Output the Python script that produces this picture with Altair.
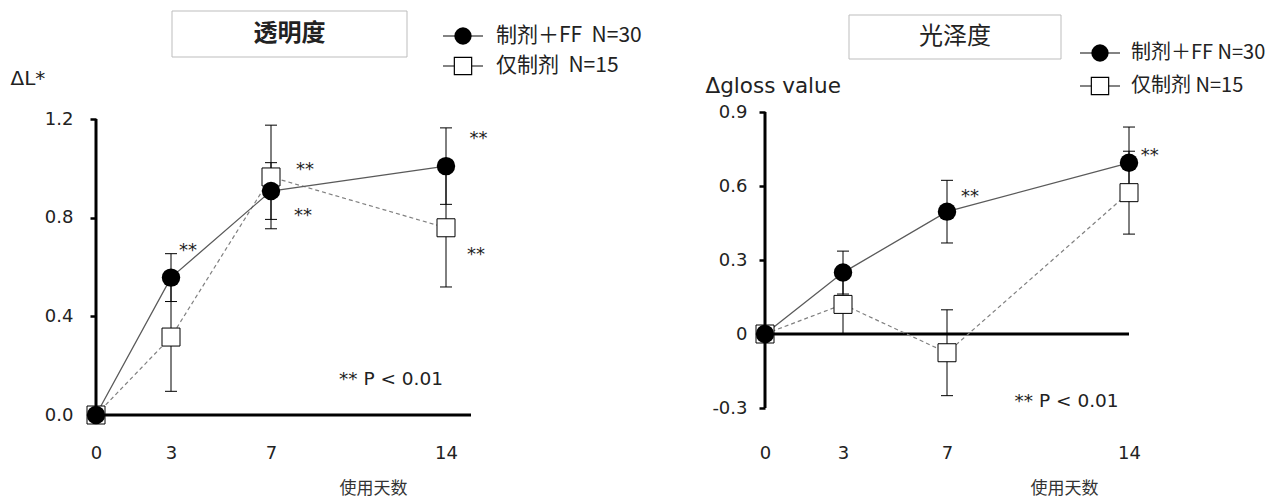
import altair as alt
import pandas as pd

DAYS = [0, 3, 7, 14]

# Left panel: 透明度 (ΔL*)
L_FF_MEAN = [0.0, 0.557, 0.908, 1.009]
L_FF_ERR = [0.0, 0.097, 0.115, 0.155]
L_ONLY_MEAN = [0.0, 0.316, 0.965, 0.759]
L_ONLY_ERR = [0.0, 0.22, 0.21, 0.24]
L_STARS_X = [3.68, 8.36, 8.28, 15.3, 15.2]
L_STARS_Y = [0.681, 1.009, 0.823, 1.135, 0.665]

# Right panel: 光泽度 (Δgloss value)
G_FF_MEAN = [0.0, 0.249, 0.496, 0.694]
G_FF_ERR = [0.0, 0.087, 0.127, 0.145]
G_ONLY_MEAN = [0.0, 0.12, -0.076, 0.573]
G_ONLY_ERR = [0.0, 0.12, 0.174, 0.168]
G_STARS_X = [7.88, 14.8]
G_STARS_Y = [0.572, 0.738]

LEGEND_LEFT = ["制剂＋FF\u00a0 N=30", "仅制剂\u00a0 N=15"]
LEGEND_RIGHT = ["制剂＋FF N=30", "仅制剂 N=15"]
X_TITLE = "使用天数"
P_NOTE = "** P < 0.01"

LATIN = "DejaVu Sans"
CJK = "Noto Sans CJK SC"


def one():
    return alt.Data(values=[{"k": 1}])


def panel(ff_mean, ff_err, only_mean, only_err, stars_x, stars_y, note_xy, legend_txt, cfg):
    W, H = cfg["w"], cfg["h"]
    xs = alt.Scale(domain=cfg["xdom"], nice=False, zero=False)
    ys = alt.Scale(domain=cfg["ydom"], nice=False, zero=False)
    df = pd.DataFrame({
        "day": DAYS * 2,
        "mean": ff_mean + only_mean,
        "err": ff_err + only_err,
        "grp": ["ff"] * 4 + ["only"] * 4,
    })
    df["lo"] = df["mean"] - df["err"]
    df["hi"] = df["mean"] + df["err"]

    xaxis = alt.Axis(values=DAYS, domain=False, ticks=False, grid=False,
                     labelPadding=cfg["xlpad"], labelFont=LATIN, labelFontSize=18,
                     labelColor="#222", title=X_TITLE, titleFont=CJK,
                     titleFontSize=17, titleFontWeight="normal", titleColor="#333",
                     titleX=cfg["xtx"], titleY=cfg["xty"], titleAlign="center",
                     titleBaseline="middle", labelFlush=False)
    yaxis = alt.Axis(values=cfg["yticks"], domain=False, grid=False, ticks=True,
                     tickSize=6, tickWidth=2.5, tickColor="black",
                     labelPadding=cfg["ylpad"], labelFont=LATIN, labelFontSize=18,
                     labelColor="#222", labelExpr=cfg["ylabel"],
                     title=cfg["ytitle"], titleFont=LATIN, titleFontSize=cfg["ytfs"],
                     titleFontWeight="normal", titleColor="#222", titleAngle=0,
                     titleX=cfg["ytx"], titleY=cfg["yty"], titleAlign="left",
                     titleBaseline="middle")
    X = alt.X("day:Q", scale=xs, axis=xaxis)
    Y = alt.Y("mean:Q", scale=ys, axis=yaxis)

    base = alt.Chart(df)
    line_ff = base.transform_filter("datum.grp == 'ff'").mark_line(
        color="#5a5a5a", strokeWidth=1.3).encode(x=X, y=Y)
    line_only = base.transform_filter("datum.grp == 'only'").mark_line(
        color="#808080", strokeWidth=1.2, strokeDash=[4, 3]).encode(x=X, y=Y)
    errs = base.transform_filter("datum.err > 0")
    err_rule = errs.mark_rule(color="black", strokeWidth=1).encode(
        x=X, y=alt.Y("lo:Q", scale=ys), y2="hi:Q")
    cap_hi = errs.mark_rule(color="black", strokeWidth=1, xOffset=-6, x2Offset=6).encode(
        x=X, x2="day:Q", y=alt.Y("hi:Q", scale=ys))
    cap_lo = errs.mark_rule(color="black", strokeWidth=1, xOffset=-6, x2Offset=6).encode(
        x=X, x2="day:Q", y=alt.Y("lo:Q", scale=ys))
    squares = base.transform_filter("datum.grp == 'only'").mark_square(
        size=324, color="white", stroke="black", strokeWidth=1, opacity=1).encode(x=X, y=Y)
    circles = base.transform_filter("datum.grp == 'ff'").mark_circle(
        size=340, color="black", opacity=1).encode(x=X, y=Y)

    zero = alt.Chart(one()).mark_rule(color="black", strokeWidth=3).encode(
        x=alt.value(0), x2=alt.value(W), y=alt.Y(datum=0, scale=ys))
    yline = alt.Chart(one()).mark_rule(color="black", strokeWidth=3).encode(
        x=alt.value(0), y=alt.Y(datum=cfg["yaxmin"], scale=ys), y2=alt.Y2(datum=cfg["yaxmax"]))

    stars_df = pd.DataFrame({"day": stars_x, "mean": stars_y, "t": ["**"] * len(stars_x)})
    stars = alt.Chart(stars_df).mark_text(font=LATIN, fontSize=18, color="#222",
                                          baseline="middle", dy=4).encode(
        x=X, y=Y, text="t:N")
    note_df = pd.DataFrame({"day": [note_xy[0]], "mean": [note_xy[1]], "t": [P_NOTE]})
    note = alt.Chart(note_df).mark_text(font=LATIN, fontSize=18.5, color="#222",
                                        baseline="middle").encode(x=X, y=Y, text="t:N")

    # title box
    bx0, bx1, by0, by1 = cfg["box"]
    box = alt.Chart(one()).mark_rect(fill="white", stroke="#bdbdbd", strokeWidth=1).encode(
        x=alt.value(bx0), x2=alt.value(bx1), y=alt.value(by0), y2=alt.value(by1))
    ttl = alt.Chart(one()).mark_text(text=cfg["title"], font=CJK, fontSize=24,
                                     fontWeight=cfg["tfw"], color="#222",
                                     baseline="middle", align="center").encode(
        x=alt.value((bx0 + bx1) / 2), y=alt.value((by0 + by1) / 2))

    # legend
    lx, ly1, ly2, lhalf, ltx, lfs = cfg["legend"]
    leg = []
    for yy, txt, kind in [(ly1, legend_txt[0], "ff"), (ly2, legend_txt[1], "only")]:
        leg.append(alt.Chart(one()).mark_rule(color="#5a5a5a", strokeWidth=1.3).encode(
            x=alt.value(lx - lhalf), x2=alt.value(lx + lhalf), y=alt.value(yy)))
        if kind == "ff":
            leg.append(alt.Chart(one()).mark_circle(size=300, color="black", opacity=1).encode(
                x=alt.value(lx), y=alt.value(yy)))
        else:
            leg.append(alt.Chart(one()).mark_square(size=300, color="white", stroke="black",
                                                    strokeWidth=1.2, opacity=1).encode(
                x=alt.value(lx), y=alt.value(yy)))
        leg.append(alt.Chart(one()).mark_text(text=txt, font=CJK, fontSize=lfs, color="#222",
                                              align="left", baseline="middle").encode(
            x=alt.value(ltx), y=alt.value(yy)))

    layers = [zero, yline, line_only, line_ff, err_rule, cap_hi, cap_lo,
              squares, circles, stars, note, box, ttl] + leg
    return alt.layer(*layers).properties(width=W, height=H)


left_cfg = dict(
    w=375, h=303, xdom=[0, 15], ydom=[0, 1.2 * 303 / 296],
    yticks=[0, 0.4, 0.8, 1.2], yaxmin=0, yaxmax=1.2,
    ylabel="format(datum.value, '.1f')",
    xlpad=29, xtx=277, xty=73, ylpad=17,
    ytitle="ΔL*", ytfs=20, ytx=-86, yty=-34,
    box=(76, 311, -101, -55), title="透明度", tfw="bold",
    legend=(367, -76, -46, 20, 400, 21),
)
right_cfg = dict(
    w=364, h=296, xdom=[0, 14], ydom=[-0.3, 0.9],
    yticks=[-0.3, 0, 0.3, 0.6, 0.9], yaxmin=-0.3, yaxmax=0.9,
    ylabel="datum.value == 0 ? '0' : (datum.value < 0 ? '-' + format(-datum.value, '.1f') : format(datum.value, '.1f'))",
    xlpad=36, xtx=299, xty=80, ylpad=12,
    ytitle="Δgloss value", ytfs=21.5, ytx=-60, yty=-26,
    box=(84, 296, -97, -53), title="光泽度", tfw="normal",
    legend=(335, -59, -26, 20, 366, 20),
)

left = panel(L_FF_MEAN, L_FF_ERR, L_ONLY_MEAN, L_ONLY_ERR, L_STARS_X, L_STARS_Y,
             (11.8, 0.146), LEGEND_LEFT, left_cfg)
right = panel(G_FF_MEAN, G_FF_ERR, G_ONLY_MEAN, G_ONLY_ERR, G_STARS_X, G_STARS_Y,
              (11.6, -0.272), LEGEND_RIGHT, right_cfg)

chart = alt.hconcat(left, right, spacing=294, bounds="flush").properties(
    padding={"left": 2, "top": 2, "right": 0, "bottom": 0},
    background="white",
).configure_view(stroke=None)

chart.save("out.html", embed_options={"renderer": "svg", "actions": False})
